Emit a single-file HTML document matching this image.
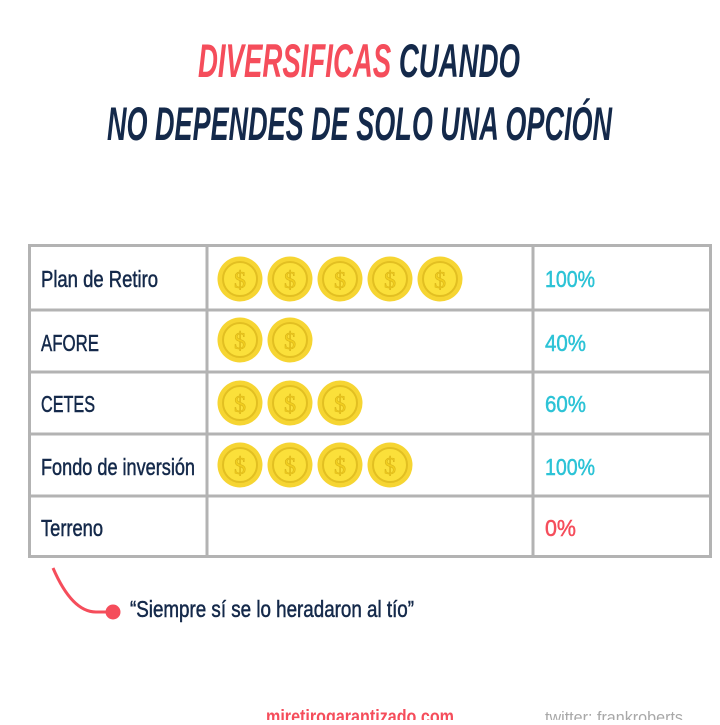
<!DOCTYPE html>
<html><head><meta charset="utf-8"><style>html,body{margin:0;padding:0;background:#fff}</style></head>
<body>
<svg width="720" height="720" viewBox="0 0 720 720" xmlns="http://www.w3.org/2000/svg" font-family="'Liberation Sans Narrow','Liberation Sans',sans-serif">
<defs>
<g id="coin">
<circle r="22.5" fill="#f6d532"/>
<circle r="17" fill="#fbe03a" stroke="#e2bf22" stroke-width="2"/>
<text x="0" y="9" text-anchor="middle" font-size="24" font-family="'Liberation Serif',serif" fill="#f2cf1e" stroke="#d9b41a" stroke-width="0.6">$</text>
</g>
</defs>
<text x="198" y="77" font-size="47" font-weight="bold" font-style="italic" textLength="322" lengthAdjust="spacingAndGlyphs"><tspan fill="#f54d5b">DIVERSIFICAS</tspan><tspan fill="#14294a"> CUANDO</tspan></text>
<text x="107" y="140" font-size="47" font-weight="bold" font-style="italic" fill="#14294a" textLength="505" lengthAdjust="spacingAndGlyphs">NO DEPENDES DE SOLO UNA OPCIÓN</text>

<g stroke="#b3b3b3" stroke-width="3" fill="none">
<rect x="29.5" y="245.5" width="681" height="311"/>
<line x1="207" y1="245" x2="207" y2="557"/>
<line x1="533" y1="245" x2="533" y2="557"/>
<line x1="29" y1="310" x2="711" y2="310"/>
<line x1="29" y1="372" x2="711" y2="372"/>
<line x1="29" y1="434" x2="711" y2="434"/>
<line x1="29" y1="496" x2="711" y2="496"/>
</g>

<g font-size="23" fill="#14294a" stroke="#14294a" stroke-width="0.5">
<text x="41" y="287" textLength="117" lengthAdjust="spacingAndGlyphs">Plan de Retiro</text>
<text x="41" y="351" textLength="58" lengthAdjust="spacingAndGlyphs">AFORE</text>
<text x="41" y="412" textLength="54" lengthAdjust="spacingAndGlyphs">CETES</text>
<text x="41" y="475" textLength="154" lengthAdjust="spacingAndGlyphs">Fondo de inversión</text>
<text x="41" y="536" textLength="62" lengthAdjust="spacingAndGlyphs">Terreno</text>
</g>
<g font-size="23" fill="#2cc3d6" stroke="#2cc3d6" stroke-width="0.5">
<text x="545" y="287" textLength="50" lengthAdjust="spacingAndGlyphs">100%</text>
<text x="545" y="351" textLength="41" lengthAdjust="spacingAndGlyphs">40%</text>
<text x="545" y="412" textLength="41" lengthAdjust="spacingAndGlyphs">60%</text>
<text x="545" y="475" textLength="50" lengthAdjust="spacingAndGlyphs">100%</text>
<text x="545" y="536" textLength="31" lengthAdjust="spacingAndGlyphs" fill="#f54d5b" stroke="#f54d5b">0%</text>
</g>

<use href="#coin" x="240" y="279"/><use href="#coin" x="290" y="279"/><use href="#coin" x="340" y="279"/><use href="#coin" x="390" y="279"/><use href="#coin" x="440" y="279"/>
<use href="#coin" x="240" y="340"/><use href="#coin" x="290" y="340"/>
<use href="#coin" x="240" y="403"/><use href="#coin" x="290" y="403"/><use href="#coin" x="340" y="403"/>
<use href="#coin" x="240" y="465"/><use href="#coin" x="290" y="465"/><use href="#coin" x="340" y="465"/><use href="#coin" x="390" y="465"/>

<path d="M53 568 Q72 612 96 612 L108 612" stroke="#f54d5b" stroke-width="3" fill="none"/>
<circle cx="113" cy="612" r="7.5" fill="#f54d5b"/>
<text x="130" y="617" font-size="23" fill="#14294a" stroke="#14294a" stroke-width="0.5" textLength="284" lengthAdjust="spacingAndGlyphs">“Siempre sí se lo heradaron al tío”</text>

<text x="266" y="723" font-size="19" font-weight="bold" fill="#f54d5b" textLength="188" lengthAdjust="spacingAndGlyphs">miretirogarantizado.com</text>
<text x="545" y="723" font-size="17" fill="#a8a8a8" textLength="138" lengthAdjust="spacingAndGlyphs">twitter:  frankroberts</text>
</svg>
</body></html>
